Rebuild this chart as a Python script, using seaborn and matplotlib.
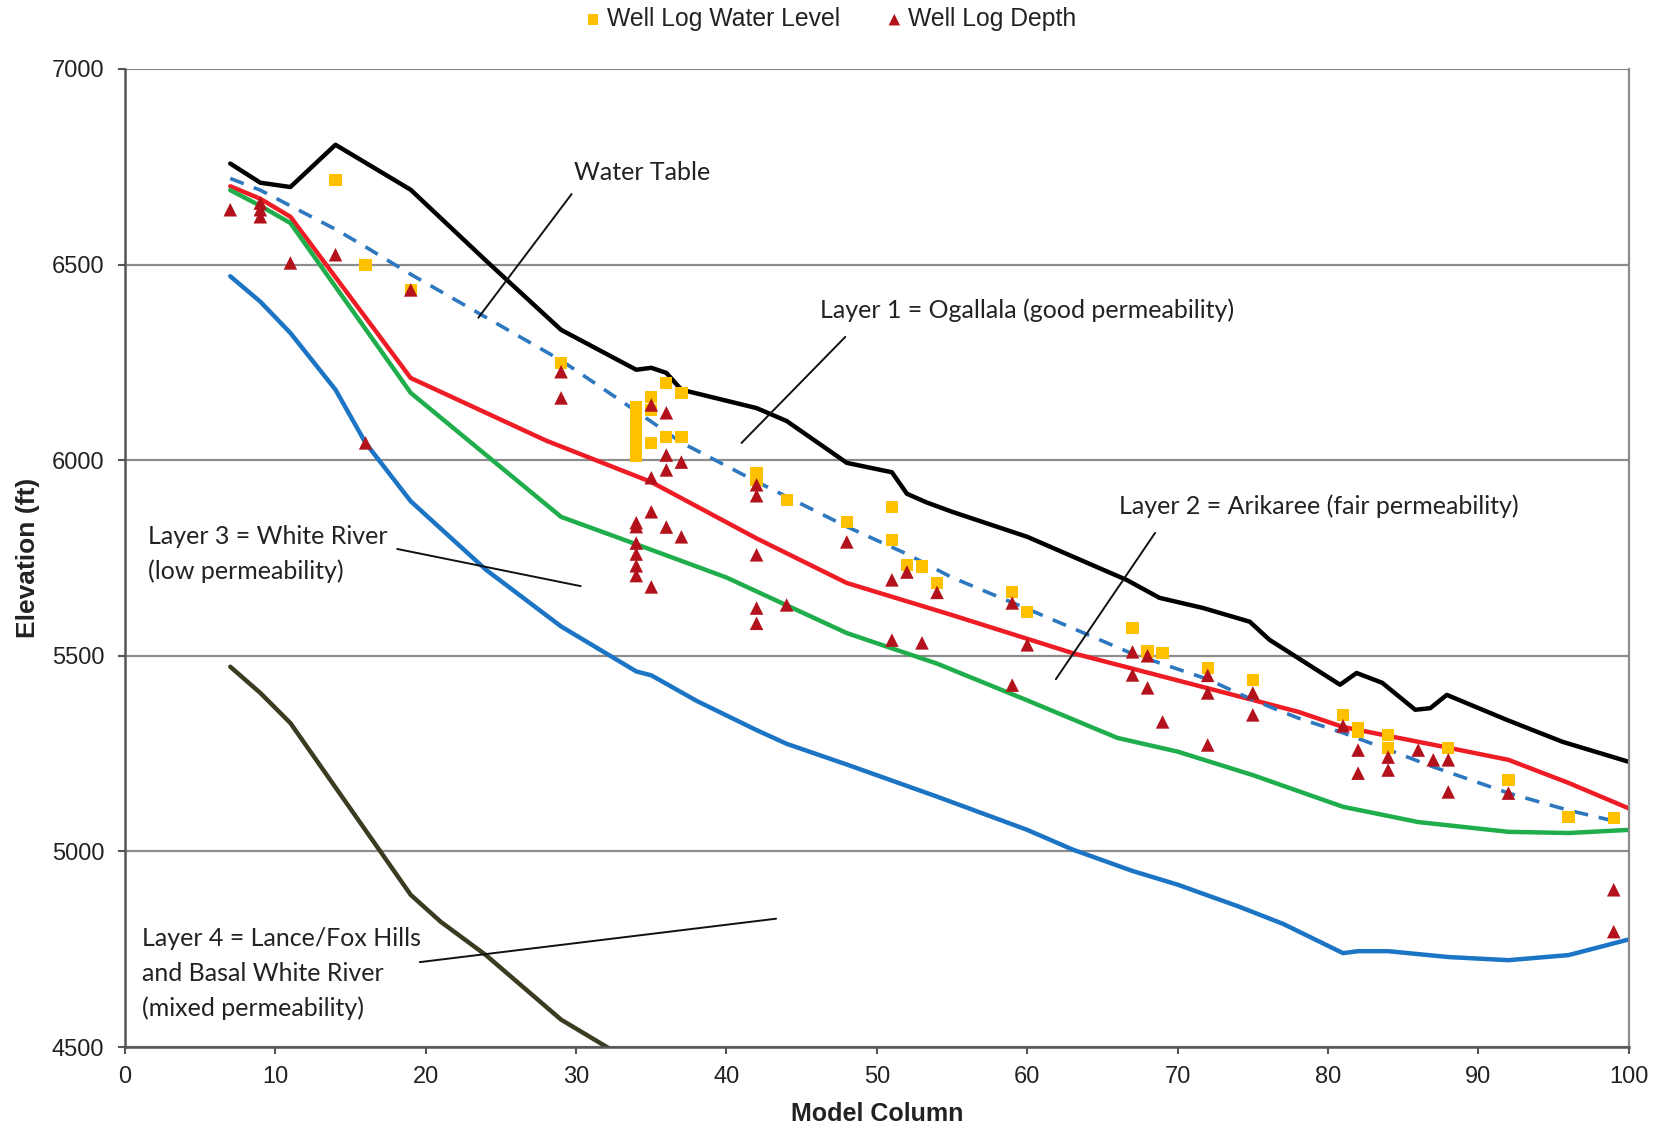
import numpy as np
import pandas as pd
import matplotlib
matplotlib.use("Agg")
import matplotlib.pyplot as plt
import seaborn as sns

# land surface (black)
surf_col = [7, 9, 11, 14, 19, 24, 29, 34, 35, 36, 37, 42, 44, 48, 51, 52, 53.3, 55, 60, 66.6, 68.8, 71.7, 74.8, 76.1,
            80.8, 81.9, 83.6, 85.8, 86.8, 87.9, 91.9, 95.6, 100]
surf_elev = [6758, 6709, 6698, 6806, 6691, 6510, 6333, 6231, 6236, 6223, 6180, 6133, 6100, 5993, 5969, 5914, 5892, 5868,
             5804, 5694, 5648, 5622, 5587, 5541, 5426, 5456, 5431, 5362, 5366, 5400, 5336, 5280, 5229]

# water table (dashed)
wt_col = [7, 9, 11, 14, 16, 19, 24, 29, 34, 37, 39, 42, 48, 52, 55, 60, 67, 72, 75, 78, 81, 84, 87, 92, 96, 99]
wt_elev = [6720, 6690, 6650, 6590, 6545, 6475, 6365, 6255, 6125, 6045, 6005, 5945, 5830, 5760, 5700, 5620, 5505, 5440,
           5387, 5341, 5303, 5260, 5216, 5149, 5105, 5078]

# bottom of layer 1 (red)
l1_col = [7, 9, 11, 19, 28, 35, 42, 48, 55, 63, 70, 78, 81, 88, 92, 96, 100]
l1_elev = [6700, 6668, 6622, 6210, 6050, 5944, 5800, 5686, 5604, 5507, 5437, 5357, 5318, 5265, 5234, 5175, 5110]

# bottom of layer 2 (green)
l2_col = [7, 9, 11, 19, 29, 34, 40, 48, 54, 60, 66, 70, 75, 81, 86, 92, 96, 100]
l2_elev = [6690, 6650, 6606, 6172, 5855, 5785, 5700, 5558, 5480, 5386, 5290, 5255, 5195, 5114, 5075, 5050, 5047, 5055]

# bottom of layer 3 (blue)
l3_col = [7, 9, 11, 14, 16, 19, 24, 29, 34, 35, 38, 42, 44, 48, 54, 60, 63, 67, 70, 74, 77, 81, 82, 84, 88, 92, 96, 100]
l3_elev = [6470, 6405, 6325, 6180, 6044, 5895, 5720, 5575, 5460, 5450, 5385, 5310, 5275, 5222, 5140, 5055, 5005, 4950,
           4915, 4860, 4815, 4740, 4745, 4745, 4730, 4722, 4735, 4775]

# top of layer 4 (dark olive)
l4_col = [7, 9, 11, 17, 19, 21, 24, 29, 33]
l4_elev = [5472, 5405, 5328, 4999, 4889, 4820, 4735, 4570, 4478]

# well log water level (yellow squares)
wl_col = [14, 16, 19, 29, 34, 34, 34, 34, 34, 34, 34, 35, 35, 35, 36, 36, 37, 37, 42, 42, 44, 48, 51, 51, 52, 53, 54,
          59, 60, 67, 68, 69, 72, 75, 81, 82, 82, 84, 84, 88, 92, 96, 99]
wl_elev = [6716, 6499, 6435, 6248, 6136, 6110, 6085, 6060, 6035, 6010, 6130, 6162, 6128, 6044, 6197, 6059, 6172, 6059,
           5967, 5950, 5898, 5842, 5880, 5795, 5732, 5728, 5686, 5663, 5612, 5571, 5511, 5507, 5469, 5438, 5349, 5316,
           5305, 5298, 5264, 5264, 5183, 5088, 5085]

# well log depth (red triangles)
wd_col = [7, 9, 9, 9, 11, 14, 16, 19, 29, 29, 34, 34, 34, 34, 34, 34, 35, 35, 35, 35, 36, 36, 36, 36, 37, 37,
          42, 42, 42, 42, 42, 44, 48, 51, 51, 52, 53, 54, 59, 59, 60, 67, 67, 68, 68, 69, 72, 72, 72, 75, 75,
          81, 82, 82, 84, 84, 86, 87, 88, 88, 92, 99, 99]
wd_elev = [6640, 6657, 6640, 6622, 6504, 6525, 6044, 6435, 6226, 6159, 5840, 5830, 5788, 5760, 5730, 5705,
           6141, 5955, 5868, 5676, 6121, 6013, 5975, 5829, 5995, 5804,
           5937, 5909, 5758, 5622, 5583, 5630, 5791, 5694, 5540, 5714, 5533, 5662, 5635, 5425, 5528,
           5510, 5451, 5500, 5418, 5331, 5450, 5405, 5272, 5405, 5349,
           5321, 5259, 5200, 5241, 5208, 5259, 5234, 5234, 5152, 5149, 4902, 4795]

sns.set_style("white")
plt.rcParams['font.family'] = ['Liberation Sans', 'DejaVu Sans']

fig = plt.figure(figsize=(16.62, 11.29), dpi=100)
ax = fig.add_axes([0.0752, 0.0726, 0.9048, 0.8664])

lw = 3.2
sns.lineplot(x=surf_col, y=surf_elev, color='#000000', lw=lw, sort=False, estimator=None, ax=ax)
sns.lineplot(x=l1_col, y=l1_elev, color='#ee1c25', lw=lw, sort=False, estimator=None, ax=ax)
sns.lineplot(x=l2_col, y=l2_elev, color='#1fae4b', lw=lw, sort=False, estimator=None, ax=ax)
sns.lineplot(x=l3_col, y=l3_elev, color='#1b75c4', lw=lw, sort=False, estimator=None, ax=ax)
sns.lineplot(x=l4_col, y=l4_elev, color='#3b3b22', lw=lw, sort=False, estimator=None, ax=ax)
sns.lineplot(x=wt_col, y=wt_elev, color='#2e78c0', lw=2.6, sort=False, estimator=None, ax=ax,
             linestyle=(0, (4, 3)))

sns.scatterplot(x=wl_col, y=wl_elev, marker='s', s=78, color='#ffc000', edgecolor='none', ax=ax,
                label='Well Log Water Level', zorder=5)
sns.scatterplot(x=wd_col, y=wd_elev, marker='^', s=95, color='#b3121c', edgecolor='none', ax=ax,
                label='Well Log Depth', zorder=6)

ax.set_xlim(0, 100)
ax.set_ylim(4500, 7000)
ax.set_xticks(range(0, 101, 10))
ax.set_yticks(range(4500, 7001, 500))
ax.yaxis.grid(True, color='#8c8c8c', lw=1.6)
ax.xaxis.grid(False)
for s in ['left', 'bottom']:
    ax.spines[s].set_color('#555555')
    ax.spines[s].set_linewidth(1.8)
ax.spines['right'].set_color('#8c8c8c')
ax.spines['right'].set_linewidth(1.6)
ax.spines['top'].set_visible(False)
ax.tick_params(axis='both', labelsize=17, direction='out', length=5, color='#555555', width=1.5,
               left=True, bottom=True, labelcolor='#222222')
ax.tick_params(axis='y', pad=10)
ax.tick_params(axis='x', pad=9)
ax.set_xlabel('Model Column', fontsize=18, fontweight='bold', labelpad=10, color='#222222')
ax.set_ylabel('Elevation (ft)', fontsize=19, fontweight='bold', labelpad=8, color='#222222')

handles, labels = ax.get_legend_handles_labels()
ax.get_legend().remove()
fig.legend(handles, labels, loc='center', bbox_to_anchor=(0.5, 0.983), ncol=2, frameon=False, fontsize=17.8,
           handlelength=0.6, handletextpad=0.25, columnspacing=1.9, markerscale=0.85, labelcolor='#222222')

# annotations
afont = dict(family=['Lato', 'DejaVu Sans'], fontsize=18, color='#222222')
ann = [
    ("Water Table", (34.4, 6735), (29.7, 6680), (23.5, 6364), 'center'),
    ("Layer 1 = Ogallala (good permeability)", (60.0, 6383), (47.9, 6315), (41.0, 6044), 'center'),
    ("Layer 2 = Arikaree (fair permeability)", (79.4, 5882), (68.5, 5814), (61.9, 5440), 'center'),
    ("Layer 3 = White River\n(low permeability)", (1.5, 5760), (18.1, 5773), (30.3, 5678), 'left'),
    ("Layer 4 = Lance/Fox Hills\nand Basal White River\n(mixed permeability)", (1.1, 4688), (19.6, 4717),
     (43.3, 4828), 'left'),
]
for txt, pos, p0, p1, ha in ann:
    ax.text(pos[0], pos[1], txt, ha=ha, va='center', linespacing=1.6, **afont)
    ax.plot([p0[0], p1[0]], [p0[1], p1[1]], color='#111111', lw=1.4)

fig.savefig('out.png', dpi=100)
